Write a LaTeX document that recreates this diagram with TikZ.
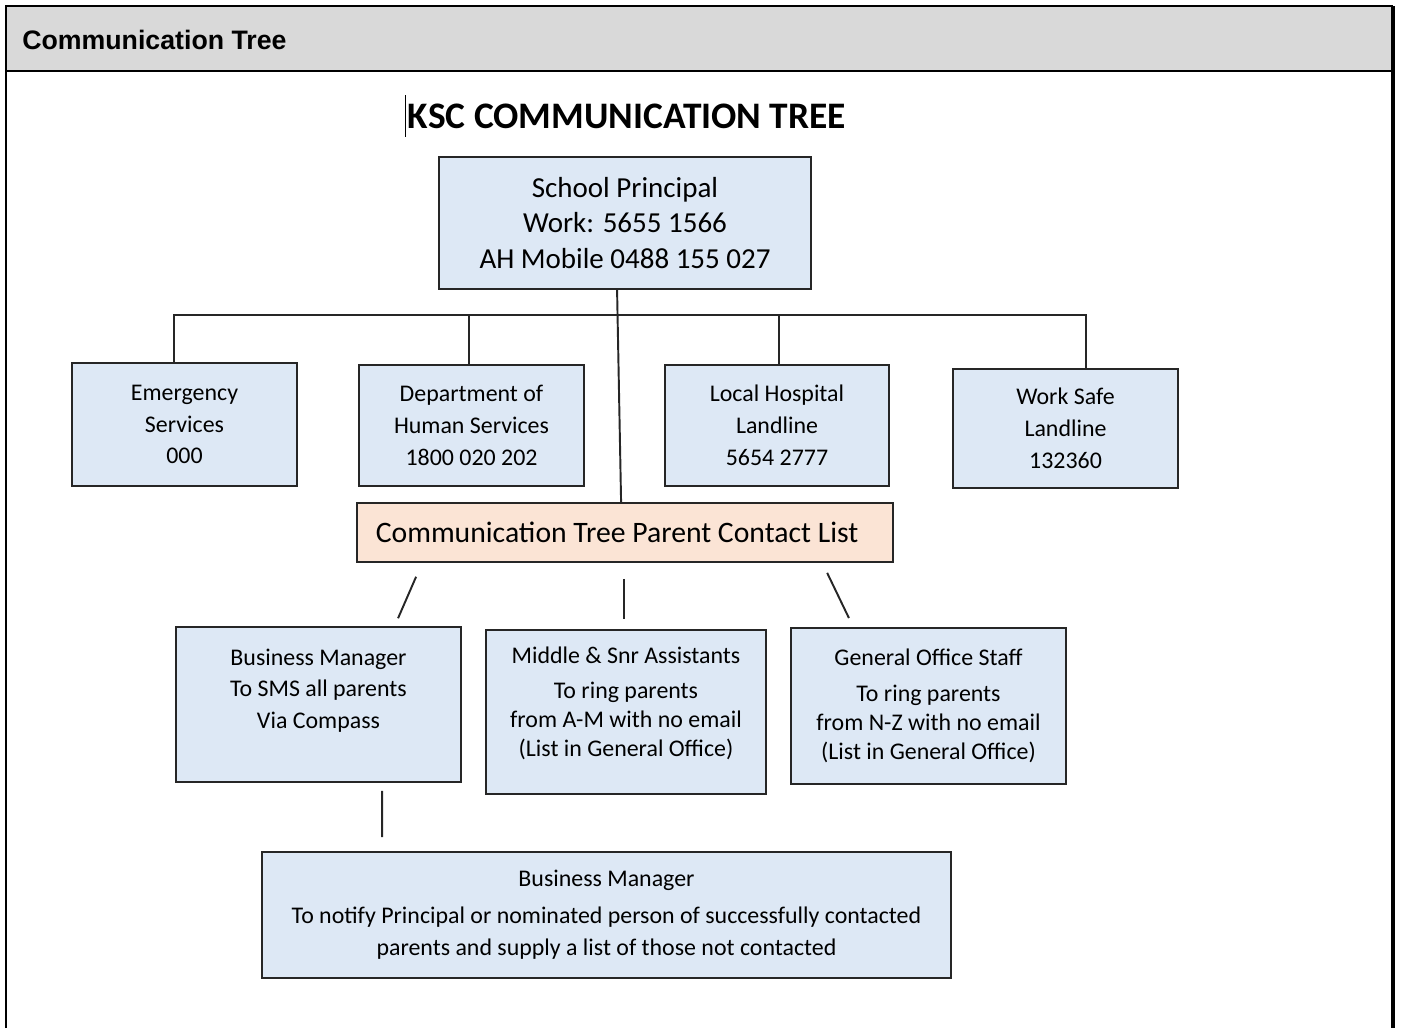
\documentclass[tikz,border=0pt]{standalone}
\usepackage{fontspec}
\setmainfont{Carlito}
\newfontfamily\headfont{Liberation Sans}
\usetikzlibrary{calc}
\definecolor{boxblue}{HTML}{DDE8F5}
\definecolor{boxpeach}{HTML}{FBE4D5}
\definecolor{headgray}{HTML}{D9D9D9}
\definecolor{linegray}{HTML}{262626}
\tikzset{
  treebox/.style={draw=linegray, line width=1.1pt, fill=boxblue, align=center,
    inner sep=0pt, font=\fontsize{13.6}{18.1}\selectfont},
  treeline/.style={draw=linegray, line width=1.1pt},
}

\begin{document}
\begin{tikzpicture}[x=0.02cm, y=-0.02cm]
\useasboundingbox (0,0) rectangle (1402,1028);
% frame and header band
\fill[headgray] (6,6) rectangle (1393,71);
\draw[line width=1.3pt] (6,1028) -- (6,6) -- (1393,6);
\draw[line width=2pt] (1393,6) -- (1393,1028);
\draw[line width=1.3pt] (6,71) -- (1393,71);
\node[anchor=west, inner sep=0pt, font=\headfont\bfseries\fontsize{15.2}{18}\selectfont] (head) at (22,40) {Communication Tree};

\node[inner sep=0pt, font=\bfseries\fontsize{21.3}{25}\selectfont] (title) at (627,116) {KSC COMMUNICATION TREE};
\draw[line width=0.9pt] ($(title.west)+(-2,-21)$) -- ($(title.west)+(-2,21)$);

\node[treebox, minimum width=7.44cm, minimum height=2.64cm, font=\fontsize{16.5}{20.4}\selectfont] (sp) at (625,223)
  {School Principal\\Work: 5655 1566\\AH Mobile 0488 155 027};

% first row of contacts
\node[treebox, minimum width=4.5cm, minimum height=2.46cm] (es) at (184.5,424.5) {Emergency\\Services\\000};
\node[treebox, minimum width=4.5cm, minimum height=2.42cm] (dhs) at (471.5,425.5) {Department of\\Human Services\\1800 020 202};
\node[treebox, minimum width=4.48cm, minimum height=2.42cm] (hos) at (777,425.5) {Local Hospital\\Landline\\5654 2777};
\node[treebox, minimum width=4.5cm, minimum height=2.38cm] (ws) at (1065.5,428.5) {Work Safe\\Landline\\132360};

\node[treebox, fill=boxpeach, minimum width=10.72cm, minimum height=1.18cm, font=\fontsize{16.9}{20}\selectfont] (pcl) at (625,532.5)
  {Communication Tree Parent Contact List\hspace{9pt}};

% second row
\node[treebox, minimum width=5.7cm, minimum height=3.1cm] (bm) at (318.5,704.5)
  {Business Manager\\To SMS all parents\\Via Compass\\~};
\node[treebox, minimum width=5.6cm, minimum height=3.28cm, font=\fontsize{13.6}{16.4}\selectfont] (msa) at (626,712)
  {Middle \& Snr Assistants\\[4pt]To ring parents\\from A-M with no email\\(List in General Office)\rule[-12pt]{0pt}{0pt}};
\node[treebox, minimum width=5.5cm, minimum height=3.12cm, font=\fontsize{13.6}{16.4}\selectfont] (gos) at (928.5,706)
  {General Office Staff\\[4pt]To ring parents\\from N-Z with no email\\(List in General Office)};

\node[treebox, minimum width=13.78cm, minimum height=2.52cm] (bmn) at (606.5,915)
  {Business Manager\\[3pt]To notify Principal or nominated person of successfully contacted\\parents and supply a list of those not contacted};

% connectors
\draw[treeline] ($(sp.south west)+(179,0)$) -- ($(pcl.north west)+(265,0)$);
\coordinate (busL) at (173,315);
\coordinate (busR) at (1086,315);
\draw[treeline] (busL) -- (busR);
\foreach \n/\dx in {es/-10.5, dhs/-2.5, hos/2, ws/20.5}
  \draw[treeline] ($(\n.north)+(\dx,0)$) |- (busL);

\draw[treeline, shorten <=0.3cm, shorten >=0.17cm] ($(pcl.south west)+(66,0)$) -- ($(bm.north west)+(219.6,0)$);
\draw[treeline, shorten <=0.32cm, shorten >=0.2cm] ($(pcl.south)+(-1,0)$) -- ($(msa.north)+(-2,0)$);
\draw[treeline, shorten <=0.22cm, shorten >=0.2cm] ($(pcl.south west)+(466.3,0)$) -- ($(gos.north west)+(63.2,0)$);
\draw[treeline, shorten <=0.16cm, shorten >=0.28cm] ($(bm.south west)+(207,0)$) -- ($(bmn.north west)+(121,0)$);
\end{tikzpicture}
\end{document}
